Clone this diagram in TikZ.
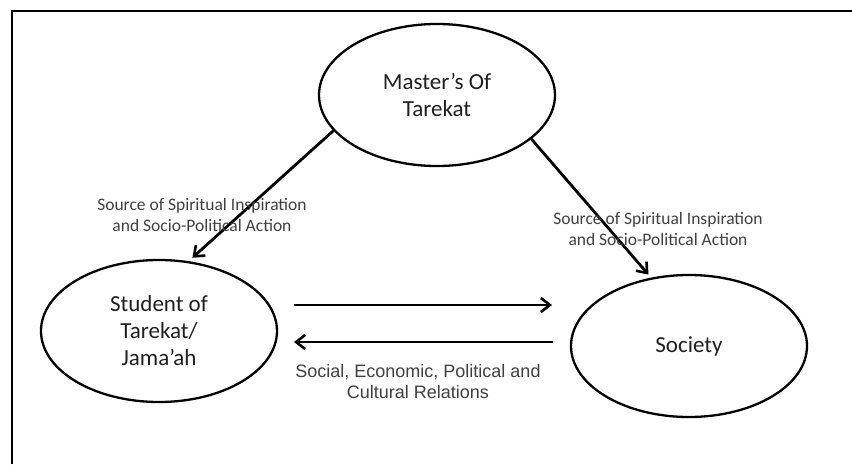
\documentclass[tikz,border=0pt]{standalone}
\usepackage{fontspec}
\setmainfont{Carlito}
\newfontfamily\arialfont{Liberation Sans}
\usetikzlibrary{arrows.meta,shapes.geometric}
\definecolor{txtdark}{HTML}{202020}
\definecolor{txtgray}{HTML}{404040}
\tikzset{
  actor/.style={ellipse,draw=black,line width=2.3pt,minimum width=236pt,minimum height=142pt,inner sep=0pt,
    align=center,text=txtdark,font=\fontsize{23}{27}\selectfont},
  lbl/.style={align=center,text=txtgray,inner sep=0pt,font=\fontsize{17.5}{21}\selectfont},
  lblb/.style={align=center,text=txtgray,inner sep=0pt,font=\arialfont\fontsize{18}{21}\selectfont},
  flow/.style={line width=2.8pt,-{Straight Barb[length=9pt,width=14pt,line width=2.6pt]}},
  frame/.style={line width=2.6pt}
}
\begin{document}
\begin{tikzpicture}[x=1pt,y=-1pt]
\useasboundingbox (0,0) rectangle (852,464);
\draw[frame] (12,464) -- (12,11) -- (852,11);
\node[actor] (M) at (437,95) {Master’s Of\\Tarekat};
\node[actor] (S) at (159,331) {Student of\\Tarekat/\\Jama’ah};
\node[actor] (C) at (689,346) {Society};
\draw[flow,shorten >=5pt] (M.199.6) -- (S.67);
\draw[flow,shorten >=4pt] (M.-25) -- (C.119.3);
\coordinate (a1s) at (294,305);
\coordinate (a1e) at (552,305);
\coordinate (a2s) at (553,342);
\coordinate (a2e) at (294,342);
\draw[flow] (a1s) -- (a1e);
\draw[flow] (a2s) -- (a2e);
\node[lbl] (L1) at (202,215) {Source of Spiritual Inspiration\\and Socio-Political Action};
\node[lbl] (L2) at (658,229) {Source of Spiritual Inspiration\\and Socio-Political Action};
\node[lblb] (L3) at (418,382) {Social, Economic, Political and\\Cultural Relations};
\end{tikzpicture}
\end{document}
